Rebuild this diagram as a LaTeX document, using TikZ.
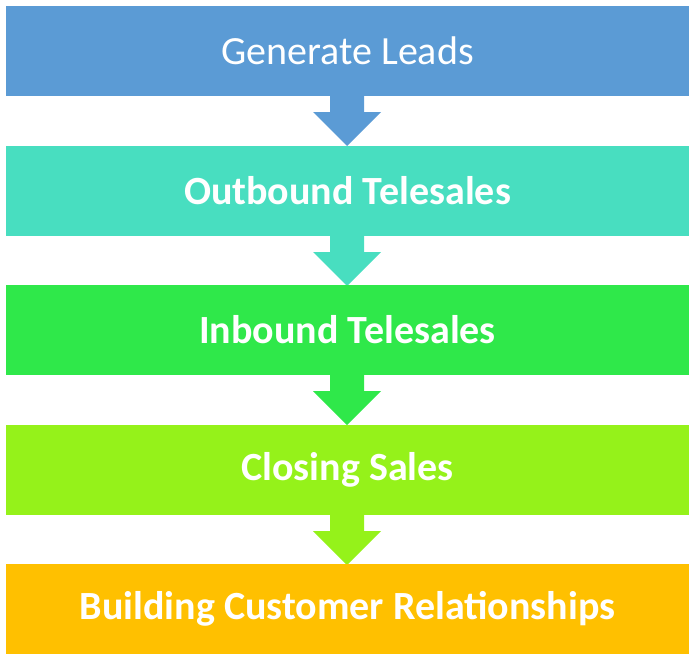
\documentclass[tikz,border=0pt]{standalone}
\usepackage{fontspec}
\setmainfont{Carlito}
\begin{document}
\begin{tikzpicture}[x=1pt,y=-1pt,
  box/.style={draw=none,minimum width=683pt,minimum height=90pt,inner sep=0pt,text=white,font=\fontsize{40}{44}\selectfont\bfseries}]
\useasboundingbox (0,0) rectangle (695,661);
\definecolor{c1}{HTML}{5B9BD5}\definecolor{c2}{HTML}{48DEC0}\definecolor{c3}{HTML}{2FE84A}
\definecolor{c4}{HTML}{95F21A}\definecolor{c5}{HTML}{FFC000}
\foreach \i/\y/\c in {1/6/c1,2/146/c2,3/285/c3,4/425/c4}{
  \fill[\c] (330,\y+89) -- (364,\y+89) -- (364,\y+106) -- (381,\y+106) -- (347,\y+140) -- (313,\y+106) -- (330,\y+106) -- cycle;}
\node[box,fill=c1,font=\fontsize{40}{44}\selectfont] (a) at (347.5,51) {Generate Leads};
\node[box,fill=c2] (b) at (347.5,191) {Outbound Telesales};
\node[box,fill=c3] (c) at (347.5,330) {Inbound Telesales};
\node[box,fill=c4] (d) at (347.5,470) {Closing Sales};
\node[box,fill=c5] (e) at (347.5,609) {Building Customer Relationships};
\end{tikzpicture}
\end{document}
